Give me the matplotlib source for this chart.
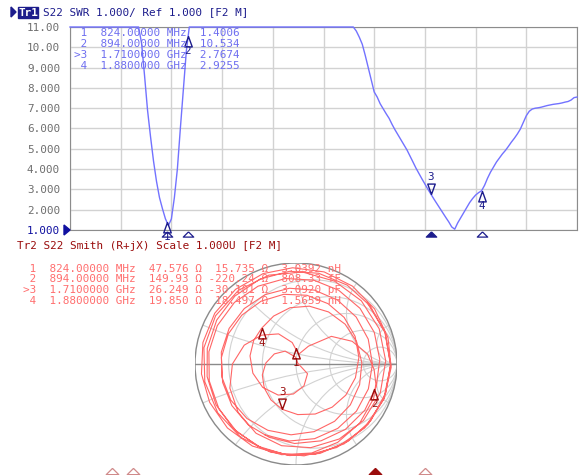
import numpy as np
import matplotlib
matplotlib.use("Agg")
from matplotlib import pyplot as plt
from matplotlib.patches import Circle, Polygon, Rectangle
from matplotlib.transforms import blended_transform_factory

W, H = 579, 475
MONO = "DejaVu Sans Mono"
FS = 7.95

# sweep 500 MHz .. 2.2 GHz, 10 MHz step
freq_mhz = np.arange(500, 2201, 10)

swr = [
    28, 30, 31, 30, 27, 24, 22, 21, 21, 22,
    24, 26, 27, 26, 24, 22, 20, 19, 18, 17,
    16, 14.5, 13.0, 11.6, 10.2, 8.6, 6.9, 5.6, 4.4, 3.4,
    2.6, 2.05, 1.55, 1.22, 1.55, 2.6, 4.0, 6.0, 7.9, 9.8,
    11.6, 13.4, 15.5, 18, 21, 24, 27, 30, 33, 36,
    38, 40, 41, 42, 42, 41, 39, 37, 34, 31,
    28, 25, 22, 20, 18.5, 17.5, 17, 17, 17.5, 18.5,
    20, 22, 24, 26, 28, 29, 30, 30, 29, 27,
    25, 23, 21, 19, 17.5, 16, 15, 14.5, 14, 13.5,
    13, 12.6, 12.2, 11.8, 11.5, 11.2, 10.8, 10.5, 10.15, 9.6,
    9.0, 8.4, 7.8, 7.55, 7.22, 6.97, 6.73, 6.5, 6.2, 5.93,
    5.68, 5.43, 5.18, 4.94, 4.65, 4.35, 4.05, 3.78, 3.52, 3.26,
    3.01, 2.767, 2.53, 2.3, 2.08, 1.85, 1.62, 1.4, 1.15, 1.04,
    1.35, 1.6, 1.85, 2.1, 2.35, 2.55, 2.72, 2.84, 2.93, 3.2,
    3.55, 3.85, 4.1, 4.35, 4.55, 4.75, 4.92, 5.12, 5.33, 5.52,
    5.73, 5.97, 6.3, 6.63, 6.85, 6.96, 7.0, 7.02, 7.05, 7.09,
    7.13, 7.16, 7.19, 7.21, 7.23, 7.26, 7.3, 7.33, 7.4, 7.52,
    7.55,
]

s22_phase_deg = [
    41, 20, -1, -22, -43, -64, -85, -106, -127, -148,
    -169, 170, 149, 128, 107, 86, 65, 44, 23, 2,
    -19, -40, -60, -80, -100, -120, -140, -160, 180, 160,
    140, 120, 100, 75, 55, 38, 22, 8, -4, -14,
    -24, -43, -62, -80, -99, -118, -137, -156, -174, 167,
    148, 129, 110, 92, 73, 54, 35, 16, -2, -21,
    -40, -59, -78, -96, -115, -134, -153, -172, 170, 151,
    132, 113, 94, 76, 57, 38, 19, 0, -18, -37,
    -56, -75, -94, -112, -131, -150, -169, 172, 154, 135,
    116, 97, 78, 60, 41, 22, 3, -16, -34, -53,
    -72, -91, -110, -128, -147, -166, 175, 156, 138, 119,
    100, 81, 62, 44, 25, 6, -13, -32, -50, -69,
    -88, -107, -125, -143, -162, 178, 155, 130, 95, 20,
    -40, -70, -95, -120, -145, -168, 170, 151, 134, 115,
    96, 77, 58, 39, 20, 1, -18, -37, -56, -75,
    -94, -113, -132, -151, -170, 171, 152, 133, 114, 95,
    76, 57, 38, 19, 0, -19, -38, -57, -76, -95,
    -114,
]

# marker readouts
marker_no = [1, 2, 3, 4]
marker_mhz = [824.0, 894.0, 1710.0, 1880.0]
marker_stim = ["824.00000 MHz", "894.00000 MHz", "1.7100000 GHz", "1.8800000 GHz"]
marker_swr = [1.4006, 10.534, 2.7674, 2.9255]
marker_r = [47.576, 149.93, 26.249, 19.850]
marker_x = [15.735, -220.24, -30.101, 18.497]
marker_lc = ["3.0392 nH", "808.33 fF", "3.0920 pF", "1.5659 nH"]
active_marker = 3

swr_ticks = list(range(1, 12))
swr_tick_labels = ["1.000", "2.000", "3.000", "4.000", "5.000", "6.000",
                   "7.000", "8.000", "9.000", "10.00", "11.00"]
smith_r = [0.2, 0.5, 1, 2, 5]
smith_x = [0.2, 0.5, 1, 2, 5]
Z0 = 50.0

NAVY = "#1c1c8c"
TRACE1 = "#7272ff"
TABLE1 = "#6e6ef0"
DARKRED = "#9a0c0c"
TRACE2 = "#ff6666"
TABLE2 = "#ff6e6e"
GRID = "#d2d2d2"
FRAME = "#8c8c8c"

UP = [(0, 0), (-0.36, -1), (0.36, -1), (0, 0)]
DOWN = [(0, 0), (-0.36, 1), (0.36, 1), (0, 0)]
FLAT = [(0, 0.5), (-1, -0.5), (1, -0.5), (0, 0.5)]


def px(x, y):
    return x / W, 1 - y / H


def sig5(v):
    digits = 4 - int(np.floor(np.log10(abs(v))))
    return f"{v:.{max(digits, 0)}f}"


fig = plt.figure(figsize=(W / 100, H / 100), dpi=100)

# ---- trace 1 header
fig.patches.append(Polygon([px(11, 7), px(11, 17), px(16, 12)], closed=True,
                           transform=fig.transFigure, color=NAVY))
fig.patches.append(Rectangle(px(18, 18), 20 / W, 11 / H,
                             transform=fig.transFigure, color=NAVY))
fig.text(*px(18.5, 12.5), "Tr1", color="white", family=MONO, fontsize=FS,
         va="center", ha="left", fontweight="bold")
fig.text(*px(43, 12.3), "S22 SWR 1.000/ Ref 1.000 [F2 M]", color=NAVY,
         family=MONO, fontsize=FS, va="center", ha="left")

# ---- SWR diagram
ax = fig.add_axes([70 / W, 1 - 230 / H, 507 / W, 203 / H])
ax.set_xlim(500, 2200)
ax.set_ylim(1, 11)
ax.set_xticks(np.linspace(500, 2200, 11))
ax.set_xticklabels([])
ax.set_yticks(swr_ticks)
ax.set_yticklabels(swr_tick_labels, family=MONO, fontsize=FS, color="#6e6e6e")
ax.get_yticklabels()[0].set_color("#1010a0")
ax.tick_params(length=0, pad=7.2)
ax.grid(color=GRID, lw=1)
ax.set_axisbelow(True)
for sp in ax.spines.values():
    sp.set_color(FRAME)

# off-scale values sit on the top edge
ax.plot(freq_mhz, np.minimum(swr, 11), color=TRACE1, lw=1, clip_on=False, zorder=3)

strip = blended_transform_factory(ax.transData, ax.transAxes)
for n, f, s in zip(marker_no, marker_mhz, marker_swr):
    act = n == active_marker
    ax.plot([f], [s], marker=DOWN if act else UP, ms=15, mfc="none", mec=NAVY,
            mew=1, clip_on=False, zorder=5)
    ax.annotate(str(n), (f, s), xytext=(0, 12.3 if act else -10.6),
                textcoords="offset points", ha="center", va="center",
                family=MONO, fontsize=FS, color=NAVY, annotation_clip=False)
    ax.plot([f], [-4.5 / 203], transform=strip, marker=FLAT, ms=7.5,
            mfc=NAVY if act else "none", mec=NAVY, mew=0.9, clip_on=False)

fig.patches.append(Polygon([px(64, 225), px(64, 235), px(70, 230)], closed=True,
                           transform=fig.transFigure, color="#1010a0"))

for i, (n, st, s) in enumerate(zip(marker_no, marker_stim, marker_swr)):
    pre = ">" if n == active_marker else " "
    row = f"{pre}{n}  {st}  {sig5(s)}"
    fig.text(*px(74, 33.3 + 11 * i), row, color=TABLE1, family=MONO,
             fontsize=FS, va="center", ha="left")

# ---- trace 2 header + readout
fig.text(*px(17, 246), "Tr2 S22 Smith (R+jX) Scale 1.000U [F2 M]", color=DARKRED,
         family=MONO, fontsize=FS, va="center", ha="left")

for i, (n, st, r, x, lc) in enumerate(zip(marker_no, marker_stim, marker_r,
                                          marker_x, marker_lc)):
    pre = ">" if n == active_marker else " "
    row = f"{pre}{n}  {st}  {sig5(r):>6} Ω {sig5(x):>7} Ω  {lc}"
    fig.text(*px(23, 268.7 + 10.8 * i), row, color=TABLE2, family=MONO,
             fontsize=FS, va="center", ha="left")

# ---- Smith chart
sax = fig.add_axes([195 / W, 1 - 465 / H, 202 / W, 202 / H])
sax.set_xlim(-1, 1)
sax.set_ylim(-1, 1)
sax.axis("off")

unit = Circle((0, 0), 1, transform=sax.transData)
for r in smith_r:
    sax.add_patch(Circle((r / (1 + r), 0), 1 / (1 + r), fill=False, ec=GRID, lw=0.8))
for x in smith_x:
    for sgn in (1, -1):
        arc = Circle((1, sgn / x), 1 / x, fill=False, ec=GRID, lw=0.8)
        sax.add_patch(arc)
        arc.set_clip_path(unit)
sax.add_patch(Circle((0, 0), 1, fill=False, ec="#8a8a8a", lw=1))
sax.plot([-1, 1], [0, 0], color="#8a8a8a", lw=1)

rho = (np.array(swr) - 1) / (np.array(swr) + 1)
gamma = rho * np.exp(1j * np.deg2rad(s22_phase_deg))
sax.plot(gamma.real, gamma.imag, color=TRACE2, lw=0.8, clip_on=False, zorder=3)

z = (np.array(marker_r) + 1j * np.array(marker_x)) / Z0
g_mk = (z - 1) / (z + 1)
for n, g in zip(marker_no, g_mk):
    act = n == active_marker
    sax.plot([g.real], [g.imag], marker=DOWN if act else UP, ms=15, mfc="none",
             mec=DARKRED, mew=1, clip_on=False, zorder=5)
    sax.annotate(str(n), (g.real, g.imag), xytext=(0, 12.3 if act else -11),
                 textcoords="offset points", ha="center", va="center",
                 family=MONO, fontsize=FS, color=DARKRED, annotation_clip=False)

# stimulus strip under the Smith chart
bax = fig.add_axes([16 / W, 0, 504 / W, 10 / H])
bax.set_xlim(500, 2200)
bax.set_ylim(0, 1)
bax.axis("off")
for n, f in zip(marker_no, marker_mhz):
    act = n == active_marker
    bax.plot([f], [0.42], marker=FLAT, ms=9, mfc=DARKRED if act else "none",
             mec=DARKRED if act else "#d08a8a", mew=0.9, clip_on=False)

fig.savefig("out.png", dpi=100)
